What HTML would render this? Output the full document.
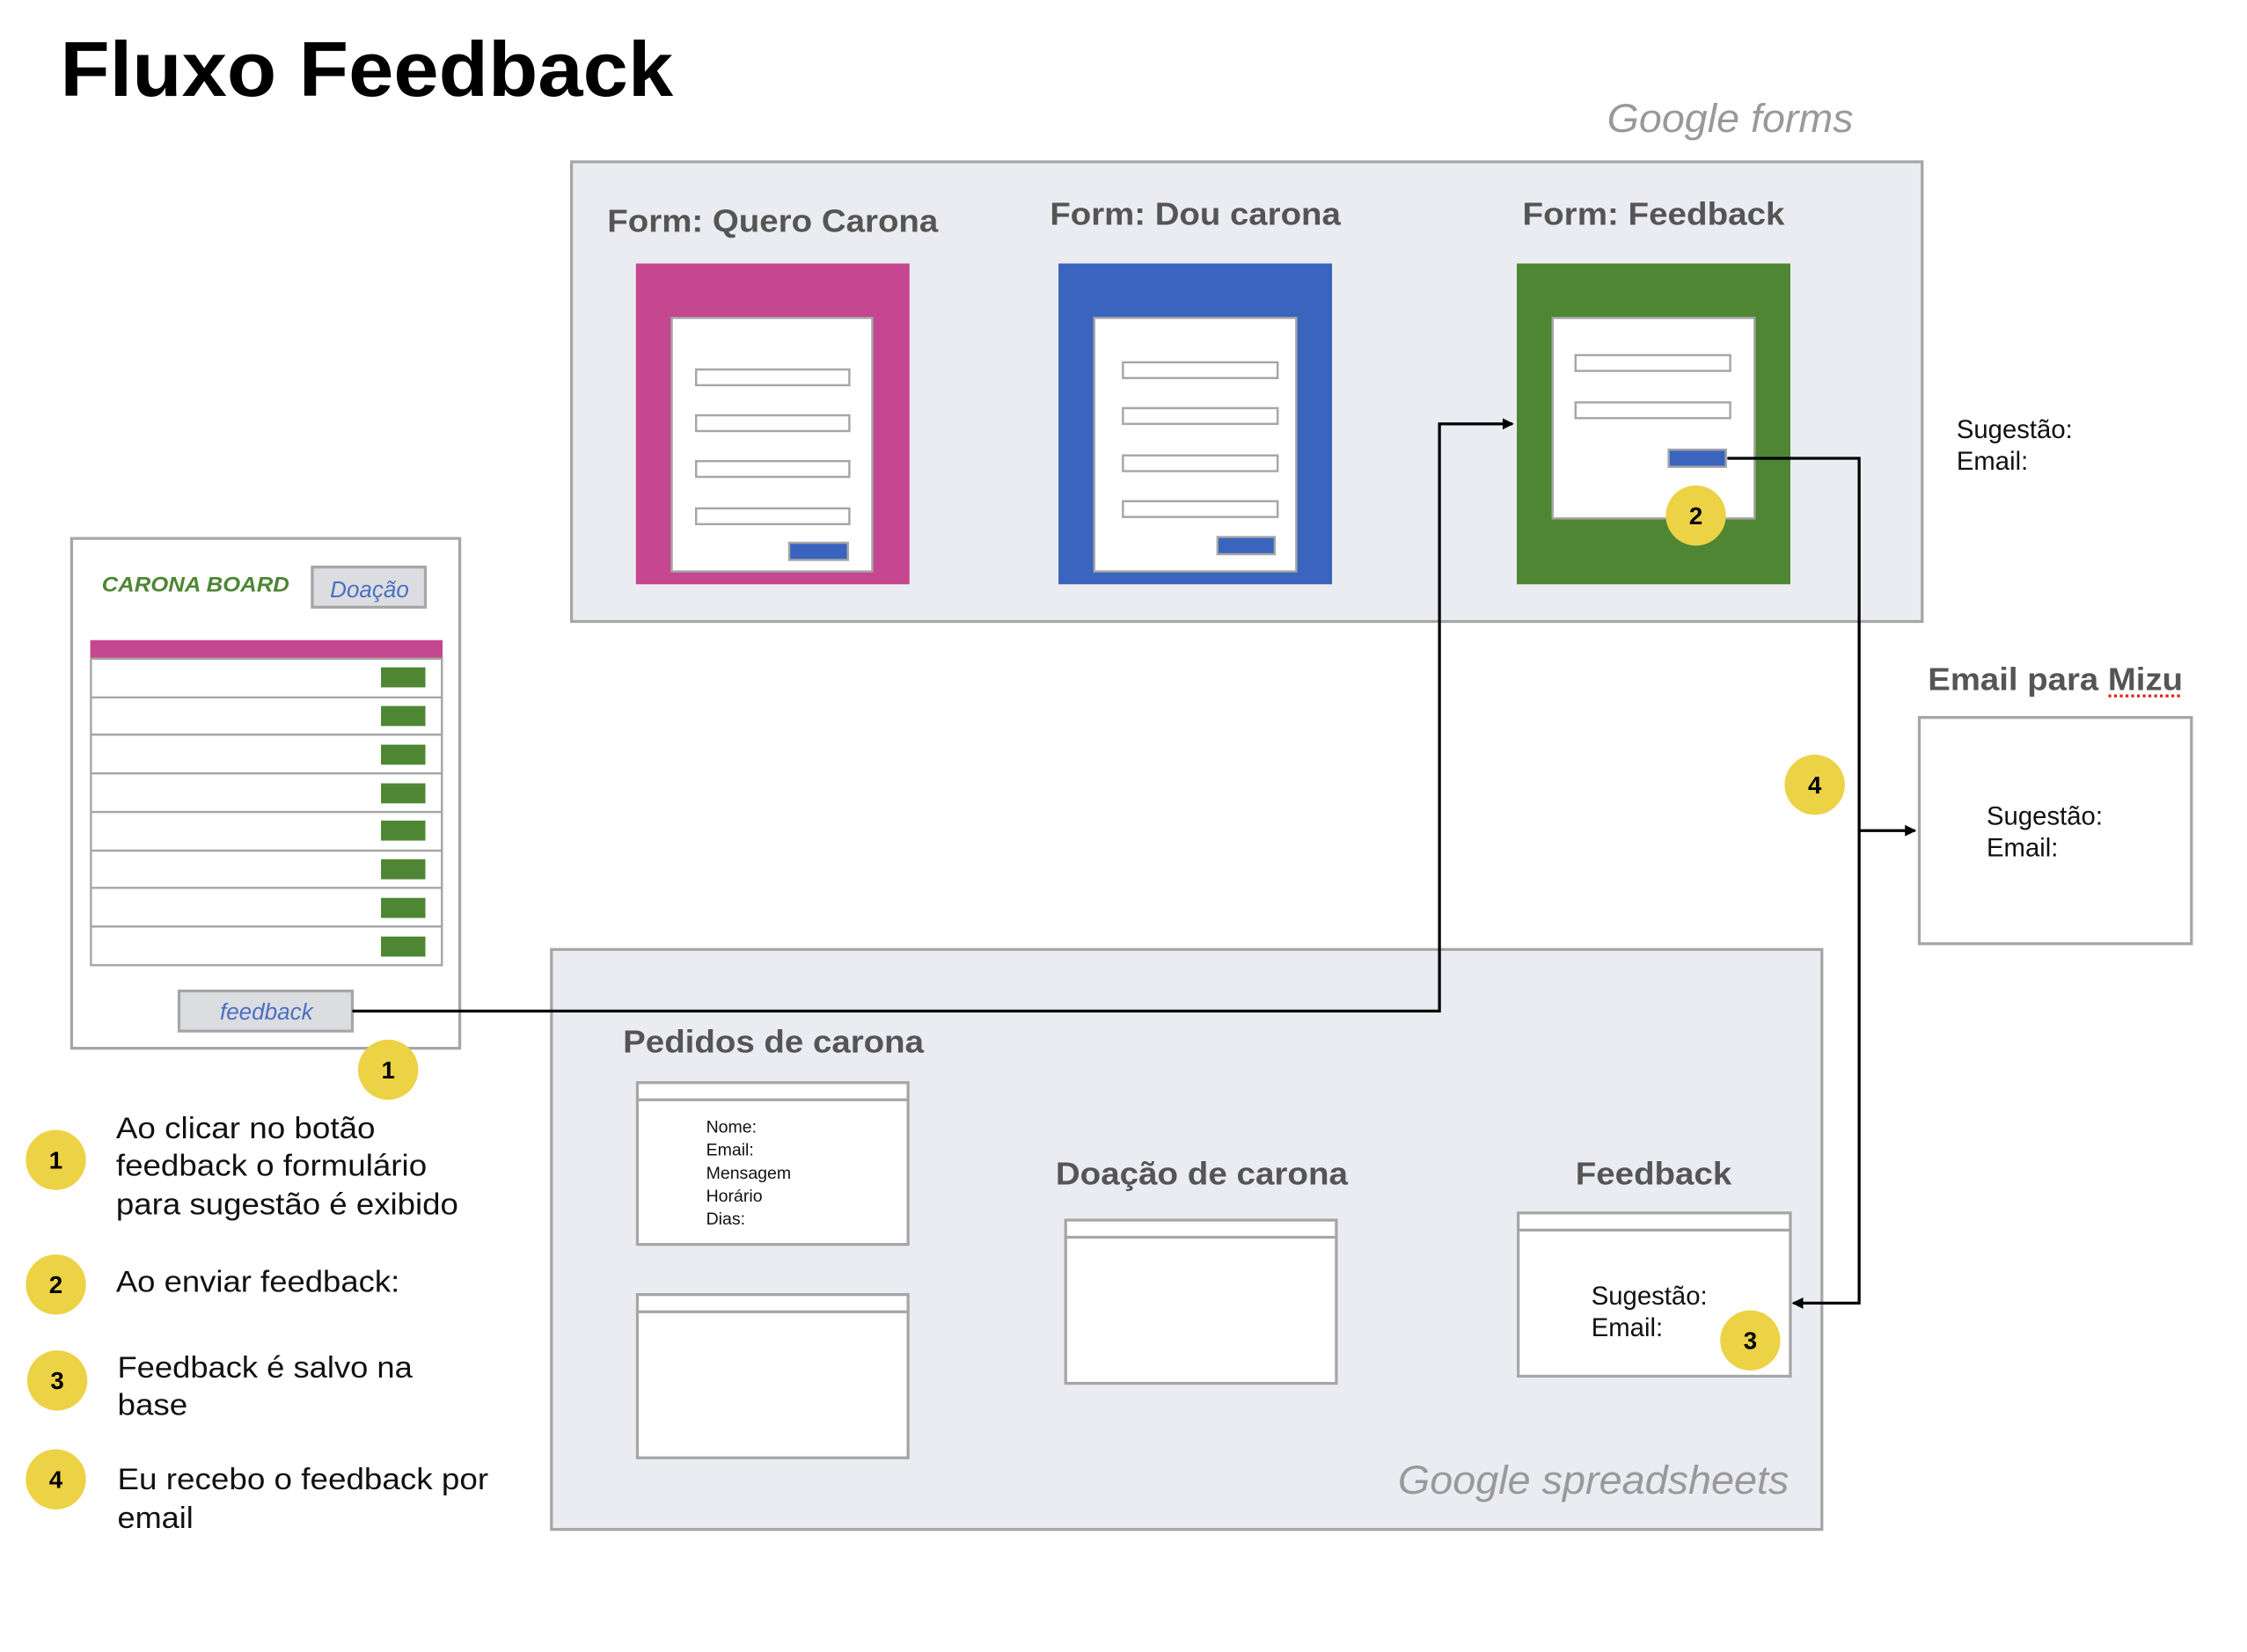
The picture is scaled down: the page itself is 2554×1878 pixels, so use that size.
<!DOCTYPE html>
<html><head><meta charset="utf-8"><style>
html,body{margin:0;padding:0;background:#fff;}
svg{display:block;}
text{font-family:"Liberation Sans",sans-serif;}
</style></head><body>
<svg width="2554" height="1878" viewBox="0 0 1568.8 1153.6" preserveAspectRatio="none" xmlns="http://www.w3.org/2000/svg">
<defs>
<marker id="ah" markerWidth="8" markerHeight="8" refX="7" refY="4" orient="auto" markerUnits="userSpaceOnUse"><path d="M0,0 L8,4 L0,8 z" fill="#000"/></marker>
</defs>
<rect width="1568.8" height="1153.6" fill="#fff"/>
<text x="42" y="67" font-size="54" font-weight="bold" fill="#000" textLength="428" lengthAdjust="spacingAndGlyphs">Fluxo Feedback</text>
<text x="1294" y="92" font-size="28" font-style="italic" fill="#999" text-anchor="end" textLength="172" lengthAdjust="spacingAndGlyphs">Google forms</text>

<!-- forms box -->
<rect x="399" y="113" width="943" height="321" fill="#ebecf1" stroke="#a6a6a6" stroke-width="2"/>
<g font-size="22" font-weight="bold" fill="#555">
<text x="424" y="162" textLength="231" lengthAdjust="spacingAndGlyphs">Form: Quero Carona</text>
<text x="733" y="157" textLength="203" lengthAdjust="spacingAndGlyphs">Form: Dou carona</text>
<text x="1063" y="157" textLength="183" lengthAdjust="spacingAndGlyphs">Form: Feedback</text>
</g>
<g stroke="#a6a6a6" stroke-width="1.5">
<rect x="444" y="184" width="191" height="224" fill="#c5478f" stroke="none"/>
<rect x="469" y="222" width="140" height="177" fill="#fff"/>
<rect x="486" y="258" width="107" height="11" fill="#fff"/>
<rect x="486" y="290" width="107" height="11" fill="#fff"/>
<rect x="486" y="322" width="107" height="11" fill="#fff"/>
<rect x="486" y="355" width="107" height="11" fill="#fff"/>
<rect x="551" y="379" width="41" height="12" fill="#3a64be"/>

<rect x="739" y="184" width="191" height="224" fill="#3a64be" stroke="none"/>
<rect x="764" y="222" width="141" height="177" fill="#fff"/>
<rect x="784" y="253" width="108" height="11" fill="#fff"/>
<rect x="784" y="285" width="108" height="11" fill="#fff"/>
<rect x="784" y="318" width="108" height="11" fill="#fff"/>
<rect x="784" y="350" width="108" height="11" fill="#fff"/>
<rect x="850" y="375" width="40" height="12" fill="#3a64be"/>

<rect x="1059" y="184" width="191" height="224" fill="#4e8634" stroke="none"/>
<rect x="1084" y="222" width="141" height="140" fill="#fff"/>
<rect x="1100" y="248" width="108" height="11" fill="#fff"/>
<rect x="1100" y="281" width="108" height="11" fill="#fff"/>
<rect x="1165" y="314" width="40" height="12" fill="#3a64be"/>
</g>

<g font-size="18" fill="#111">
<text x="1366" y="306">Sugestão:</text>
<text x="1366" y="328">Email:</text>
</g>

<!-- carona board -->
<rect x="50" y="376" width="271" height="356" fill="#fff" stroke="#a6a6a6" stroke-width="2"/>
<text x="71" y="413" font-size="15" font-weight="bold" font-style="italic" fill="#4e8634" textLength="131" lengthAdjust="spacingAndGlyphs">CARONA BOARD</text>
<rect x="218" y="396" width="79" height="28" fill="#dcdde0" stroke="#a6a6a6" stroke-width="2"/>
<text x="258" y="417" font-size="16" font-style="italic" fill="#4a6fc4" text-anchor="middle">Doação</text>
<rect x="63" y="447" width="246" height="14" fill="#c5478f"/>
<g stroke="#a6a6a6" stroke-width="1.5" fill="#fff">
<rect x="63.5" y="460" width="245" height="214"/>
<line x1="63" y1="487" x2="309" y2="487"/>
<line x1="63" y1="513" x2="309" y2="513"/>
<line x1="63" y1="540" x2="309" y2="540"/>
<line x1="63" y1="567" x2="309" y2="567"/>
<line x1="63" y1="594" x2="309" y2="594"/>
<line x1="63" y1="620" x2="309" y2="620"/>
<line x1="63" y1="647" x2="309" y2="647"/>
</g>
<g fill="#4e8634">
<rect x="266" y="466" width="31" height="14"/>
<rect x="266" y="493" width="31" height="14"/>
<rect x="266" y="520" width="31" height="14"/>
<rect x="266" y="547" width="31" height="14"/>
<rect x="266" y="573" width="31" height="14"/>
<rect x="266" y="600" width="31" height="14"/>
<rect x="266" y="627" width="31" height="14"/>
<rect x="266" y="654" width="31" height="14"/>
</g>
<rect x="125" y="692" width="121" height="28" fill="#dcdde0" stroke="#a6a6a6" stroke-width="2"/>
<text x="186" y="712" font-size="16" font-style="italic" fill="#4a6fc4" text-anchor="middle">feedback</text>

<!-- spreadsheets box -->
<rect x="385" y="663" width="887" height="405" fill="#ebecf1" stroke="#a6a6a6" stroke-width="2"/>
<g font-size="22" font-weight="bold" fill="#555">
<text x="435" y="735" textLength="210" lengthAdjust="spacingAndGlyphs">Pedidos de carona</text>
<text x="737" y="827" textLength="204" lengthAdjust="spacingAndGlyphs">Doação de carona</text>
<text x="1100" y="827" textLength="109" lengthAdjust="spacingAndGlyphs">Feedback</text>
</g>
<g stroke="#a6a6a6" stroke-width="2" fill="#fff">
<rect x="445" y="756" width="189" height="113"/><line x1="445" y1="768" x2="634" y2="768"/>
<rect x="445" y="904" width="189" height="114"/><line x1="445" y1="916" x2="634" y2="916"/>
<rect x="744" y="852" width="189" height="114"/><line x1="744" y1="864" x2="933" y2="864"/>
<rect x="1060" y="847" width="190" height="114"/><line x1="1060" y1="859" x2="1250" y2="859"/>
</g>
<g font-size="12" fill="#111">
<text x="493" y="791">Nome:</text>
<text x="493" y="807">Email:</text>
<text x="493" y="823">Mensagem</text>
<text x="493" y="839">Horário</text>
<text x="493" y="855">Dias:</text>
</g>
<g font-size="18" fill="#111">
<text x="1111" y="911">Sugestão:</text>
<text x="1111" y="933">Email:</text>
</g>
<text x="1249" y="1043" font-size="28" font-style="italic" fill="#999" text-anchor="end" textLength="273" lengthAdjust="spacingAndGlyphs">Google spreadsheets</text>

<!-- email box -->
<text x="1346" y="482" font-size="22" font-weight="bold" fill="#555" textLength="178" lengthAdjust="spacingAndGlyphs">Email para Mizu</text>
<line x1="1472" y1="486" x2="1524" y2="486" stroke="#d22" stroke-width="2" stroke-dasharray="2,2"/>
<rect x="1340" y="501" width="190" height="158" fill="#fff" stroke="#a6a6a6" stroke-width="2"/>
<g font-size="18" fill="#111">
<text x="1387" y="576">Sugestão:</text>
<text x="1387" y="598">Email:</text>
</g>

<!-- connectors -->
<g stroke="#000" stroke-width="2" fill="none">
<polyline points="246,706 1005,706 1005,296 1056,296" marker-end="url(#ah)"/>
<polyline points="1206,320 1298,320 1298,910 1252,910" marker-end="url(#ah)"/>
<polyline points="1298,580 1337,580" marker-end="url(#ah)"/>
</g>

<!-- badges -->
<g fill="#ecd245">
<circle cx="1184" cy="360" r="21"/>
<circle cx="271" cy="747" r="21"/>
<circle cx="1267" cy="548" r="21"/>
<circle cx="1222" cy="936" r="21"/>
<circle cx="39" cy="810" r="21"/>
<circle cx="39" cy="897" r="21"/>
<circle cx="40" cy="964" r="21"/>
<circle cx="39" cy="1033" r="21"/>
</g>
<g font-size="17" font-weight="bold" fill="#000" text-anchor="middle">
<text x="1184" y="366">2</text>
<text x="271" y="753">1</text>
<text x="1267" y="554">4</text>
<text x="1222" y="942">3</text>
<text x="39" y="816">1</text>
<text x="39" y="903">2</text>
<text x="40" y="970">3</text>
<text x="39" y="1039">4</text>
</g>

<!-- legend -->
<g font-size="21" fill="#111" lengthAdjust="spacingAndGlyphs">
<text x="81" y="795" textLength="181" lengthAdjust="spacingAndGlyphs">Ao clicar no botão</text>
<text x="81" y="821" textLength="217" lengthAdjust="spacingAndGlyphs">feedback o formulário</text>
<text x="81" y="848" textLength="239" lengthAdjust="spacingAndGlyphs">para sugestão é exibido</text>
<text x="81" y="902" textLength="198" lengthAdjust="spacingAndGlyphs">Ao enviar feedback:</text>
<text x="82" y="962" textLength="206" lengthAdjust="spacingAndGlyphs">Feedback é salvo na</text>
<text x="82" y="988" textLength="49" lengthAdjust="spacingAndGlyphs">base</text>
<text x="82" y="1040" textLength="259" lengthAdjust="spacingAndGlyphs">Eu recebo o feedback por</text>
<text x="82" y="1067" textLength="53" lengthAdjust="spacingAndGlyphs">email</text>
</g>
</svg>
</body></html>
